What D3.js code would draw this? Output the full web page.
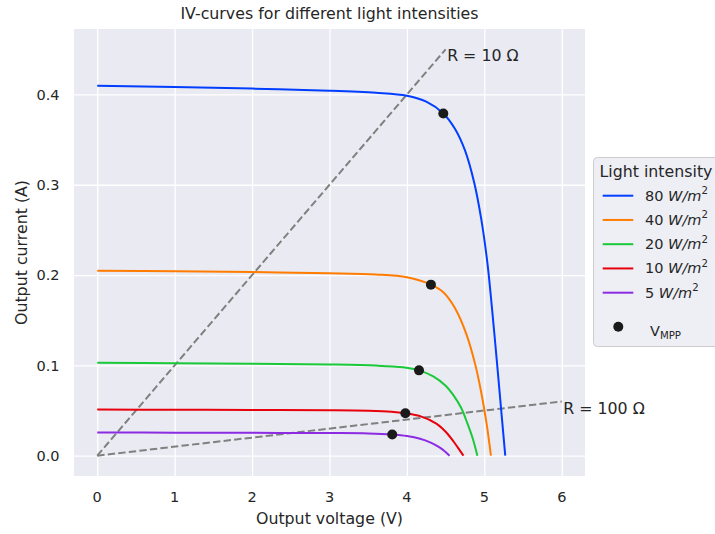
<!DOCTYPE html>
<html>
<head>
<meta charset="utf-8">
<script src="https://cdn.jsdelivr.net/npm/d3@7"></script>
<style>
  body { margin: 0; background: #ffffff; }
  text { font-family: "DejaVu Sans", sans-serif; fill: #262626; }
</style>
</head>
<body>
<div id="iv-chart"></div>
<script>
// legend labels and colours (seaborn "bright")
var intensities = ["80", "40", "20", "10", "5"]
var lineColors = ["#023eff", "#ff7c00", "#1ac938", "#e8000b", "#8b2be2"]

// IV curves: [voltage (V), current (A)]
var curve80 = [[0, 0.4097], [1, 0.4082], [2, 0.4065], [3, 0.4042], [3.6, 0.4018], [4, 0.3985], [4.25, 0.392],
  [4.47, 0.379], [4.62, 0.362], [4.75, 0.338], [4.87, 0.302], [4.96, 0.262], [5.04, 0.213], [5.1, 0.162],
  [5.16, 0.106], [5.215, 0.053], [5.27, 0]]
var curve40 = [[0, 0.2049], [1, 0.2042], [2, 0.2033], [3, 0.2021], [3.6, 0.2006], [4, 0.1975], [4.31, 0.1894],
  [4.47, 0.181], [4.62, 0.1635], [4.77, 0.134], [4.885, 0.1], [4.96, 0.07], [5.03, 0.035], [5.085, 0]]
var curve20 = [[0, 0.1028], [1, 0.1024], [2, 0.1018], [3, 0.101], [3.6, 0.0998], [3.95, 0.0978], [4.156, 0.0945],
  [4.34, 0.0878], [4.5, 0.0775], [4.6, 0.067], [4.7, 0.053], [4.78, 0.036], [4.85, 0.019], [4.91, 0]]
var curve10 = [[0, 0.0511], [1, 0.0509], [2, 0.0507], [3, 0.0503], [3.5, 0.0497], [3.8, 0.0486], [3.98, 0.0469],
  [4.17, 0.0438], [4.38, 0.0355], [4.5, 0.0265], [4.6, 0.016], [4.67, 0.0075], [4.73, 0]]
var curve5 = [[0, 0.0256], [1, 0.0255], [2, 0.0253], [3, 0.0251], [3.5, 0.0247], [3.81, 0.0235], [4.0, 0.0218],
  [4.17, 0.0188], [4.3, 0.0148], [4.4, 0.0102], [4.48, 0.0055], [4.55, 0]]
var curves = [curve80, curve40, curve20, curve10, curve5]

// maximum power points
var mppVoltage = [4.47, 4.31, 4.156, 3.98, 3.81]
var mppCurrent = [0.379, 0.1894, 0.0945, 0.0469, 0.0235]

// load lines R = 10 and R = 100 ohm
var loadLabels = ["R = 10 \u03A9", "R = 100 \u03A9"]
var loadVoltage = [[0, 4.5], [0, 6]]
var loadCurrent = [[0, 0.45], [0, 0.06]]

// ticks
var xTicks = [0, 1, 2, 3, 4, 5, 6]
var yTicks = [0, 0.1, 0.2, 0.3, 0.4]

// plot box
var chart_width = 715,
    chart_height = 534,
    plot_left = 74, plot_right = 585, plot_top = 29, plot_bottom = 476

var svg = d3.select("#iv-chart")
  .append("svg")
    .attr("width", chart_width)
    .attr("height", chart_height)

var x = d3.scaleLinear().domain([-0.3, 6.3]).range([plot_left, plot_right])
var y = d3.scaleLinear().domain([-0.0225, 0.4725]).range([plot_bottom, plot_top])

// darkgrid background
svg.append("rect")
  .attr("x", plot_left).attr("y", plot_top)
  .attr("width", plot_right - plot_left).attr("height", plot_bottom - plot_top)
  .attr("fill", "#eaeaf2")

// grid lines via the axes, ticks stretched across the plot
svg.append("g")
  .attr("transform", "translate(0," + plot_bottom + ")")
  .call(d3.axisBottom(x).tickValues(xTicks).tickSize(-(plot_bottom - plot_top)).tickFormat(""))
  .call(function(g) { g.select(".domain").remove() })
  .selectAll("line").attr("stroke", "#ffffff").attr("stroke-width", 1.3)

svg.append("g")
  .attr("transform", "translate(" + plot_left + ",0)")
  .call(d3.axisLeft(y).tickValues(yTicks).tickSize(-(plot_right - plot_left)).tickFormat(""))
  .call(function(g) { g.select(".domain").remove() })
  .selectAll("line").attr("stroke", "#ffffff").attr("stroke-width", 1.3)

// tick labels
svg.append("g")
  .selectAll("text")
  .data(xTicks)
  .enter()
  .append("text")
    .attr("x", function(d) { return x(d) })
    .attr("y", 501.5)
    .attr("text-anchor", "middle")
    .attr("font-size", "14.5px")
    .text(function(d) { return d })

svg.append("g")
  .selectAll("text")
  .data(yTicks)
  .enter()
  .append("text")
    .attr("x", 59.5)
    .attr("y", function(d) { return y(d) + 5.2 })
    .attr("text-anchor", "end")
    .attr("font-size", "14.5px")
    .text(function(d) { return d3.format(".1f")(d) })

var plot = svg.append("g")

// load lines (dashed)
loadLabels.forEach(function(label, i) {
  var pts = loadVoltage[i].map(function(v, j) { return [v, loadCurrent[i][j]] })
  plot.append("path")
    .attr("d", d3.line().x(function(d) { return x(d[0]) }).y(function(d) { return y(d[1]) })(pts))
    .attr("fill", "none")
    .attr("stroke", "#808080")
    .attr("stroke-width", 2)
    .attr("stroke-dasharray", "7.4,3.2")
  plot.append("text")
    .attr("x", x(pts[1][0]) + 1.5)
    .attr("y", y(pts[1][1]) + 12)
    .attr("font-size", "15.8px")
    .text(label)
})

// IV curves, smooth line through the read points
var line = d3.line()
  .x(function(d) { return x(d[0]) })
  .y(function(d) { return y(d[1]) })
  .curve(d3.curveCatmullRom.alpha(0.5))

plot.selectAll("path.iv")
  .data(curves)
  .enter()
  .append("path")
    .attr("class", "iv")
    .attr("d", line)
    .attr("fill", "none")
    .attr("stroke", function(d, i) { return lineColors[i] })
    .attr("stroke-width", 2)

// MPP markers
plot.selectAll("circle.mpp")
  .data(mppVoltage)
  .enter()
  .append("circle")
    .attr("class", "mpp")
    .attr("cx", function(d) { return x(d) })
    .attr("cy", function(d, i) { return y(mppCurrent[i]) })
    .attr("r", 5)
    .attr("fill", "#1a1a1a")

// titles
svg.append("text")
  .attr("x", (plot_left + plot_right) / 2).attr("y", 18.5)
  .attr("text-anchor", "middle").attr("font-size", "15.8px")
  .text("IV-curves for different light intensities")

svg.append("text")
  .attr("x", (plot_left + plot_right) / 2).attr("y", 524)
  .attr("text-anchor", "middle").attr("font-size", "15.8px")
  .text("Output voltage (V)")

svg.append("text")
  .attr("transform", "translate(26.5," + (plot_top + plot_bottom) / 2 + ") rotate(-90)")
  .attr("text-anchor", "middle").attr("font-size", "15.8px")
  .text("Output current (A)")

// legend
var legend = svg.append("g").attr("transform", "translate(593.5,157.5)")

legend.append("rect")
  .attr("width", 150).attr("height", 189).attr("rx", 4)
  .attr("fill", "#eeeef5")
  .attr("stroke", "#cccccc")

legend.append("text")
  .attr("x", 6).attr("y", 19.2)
  .attr("font-size", "15.8px")
  .text("Light intensity")

var entries = legend.selectAll("g.entry")
  .data(intensities)
  .enter()
  .append("g")
    .attr("class", "entry")
    .attr("transform", function(d, i) { return "translate(0," + (38.2 + i * 24.25) + ")" })

entries.append("line")
  .attr("x1", 9.2).attr("x2", 39.8)
  .attr("stroke", function(d, i) { return lineColors[i] })
  .attr("stroke-width", 2)

var entryText = entries.append("text")
  .attr("x", 51.5).attr("y", 5)
  .attr("font-size", "14.5px")

entryText.append("tspan").text(function(d) { return d + " " })
entryText.append("tspan").attr("font-style", "italic").text("W/m")
entryText.append("tspan").attr("font-size", "10.2px").attr("dy", -6.5).text("2")

legend.append("circle")
  .attr("cx", 24.8).attr("cy", 169.2).attr("r", 5)
  .attr("fill", "#1a1a1a")

var vmpp = legend.append("text")
  .attr("x", 56.5).attr("y", 178.8)
  .attr("font-size", "14.5px")
vmpp.append("tspan").text("V")
vmpp.append("tspan").attr("font-size", "10.2px").attr("dy", 2.8).text("MPP")
</script>
</body>
</html>
